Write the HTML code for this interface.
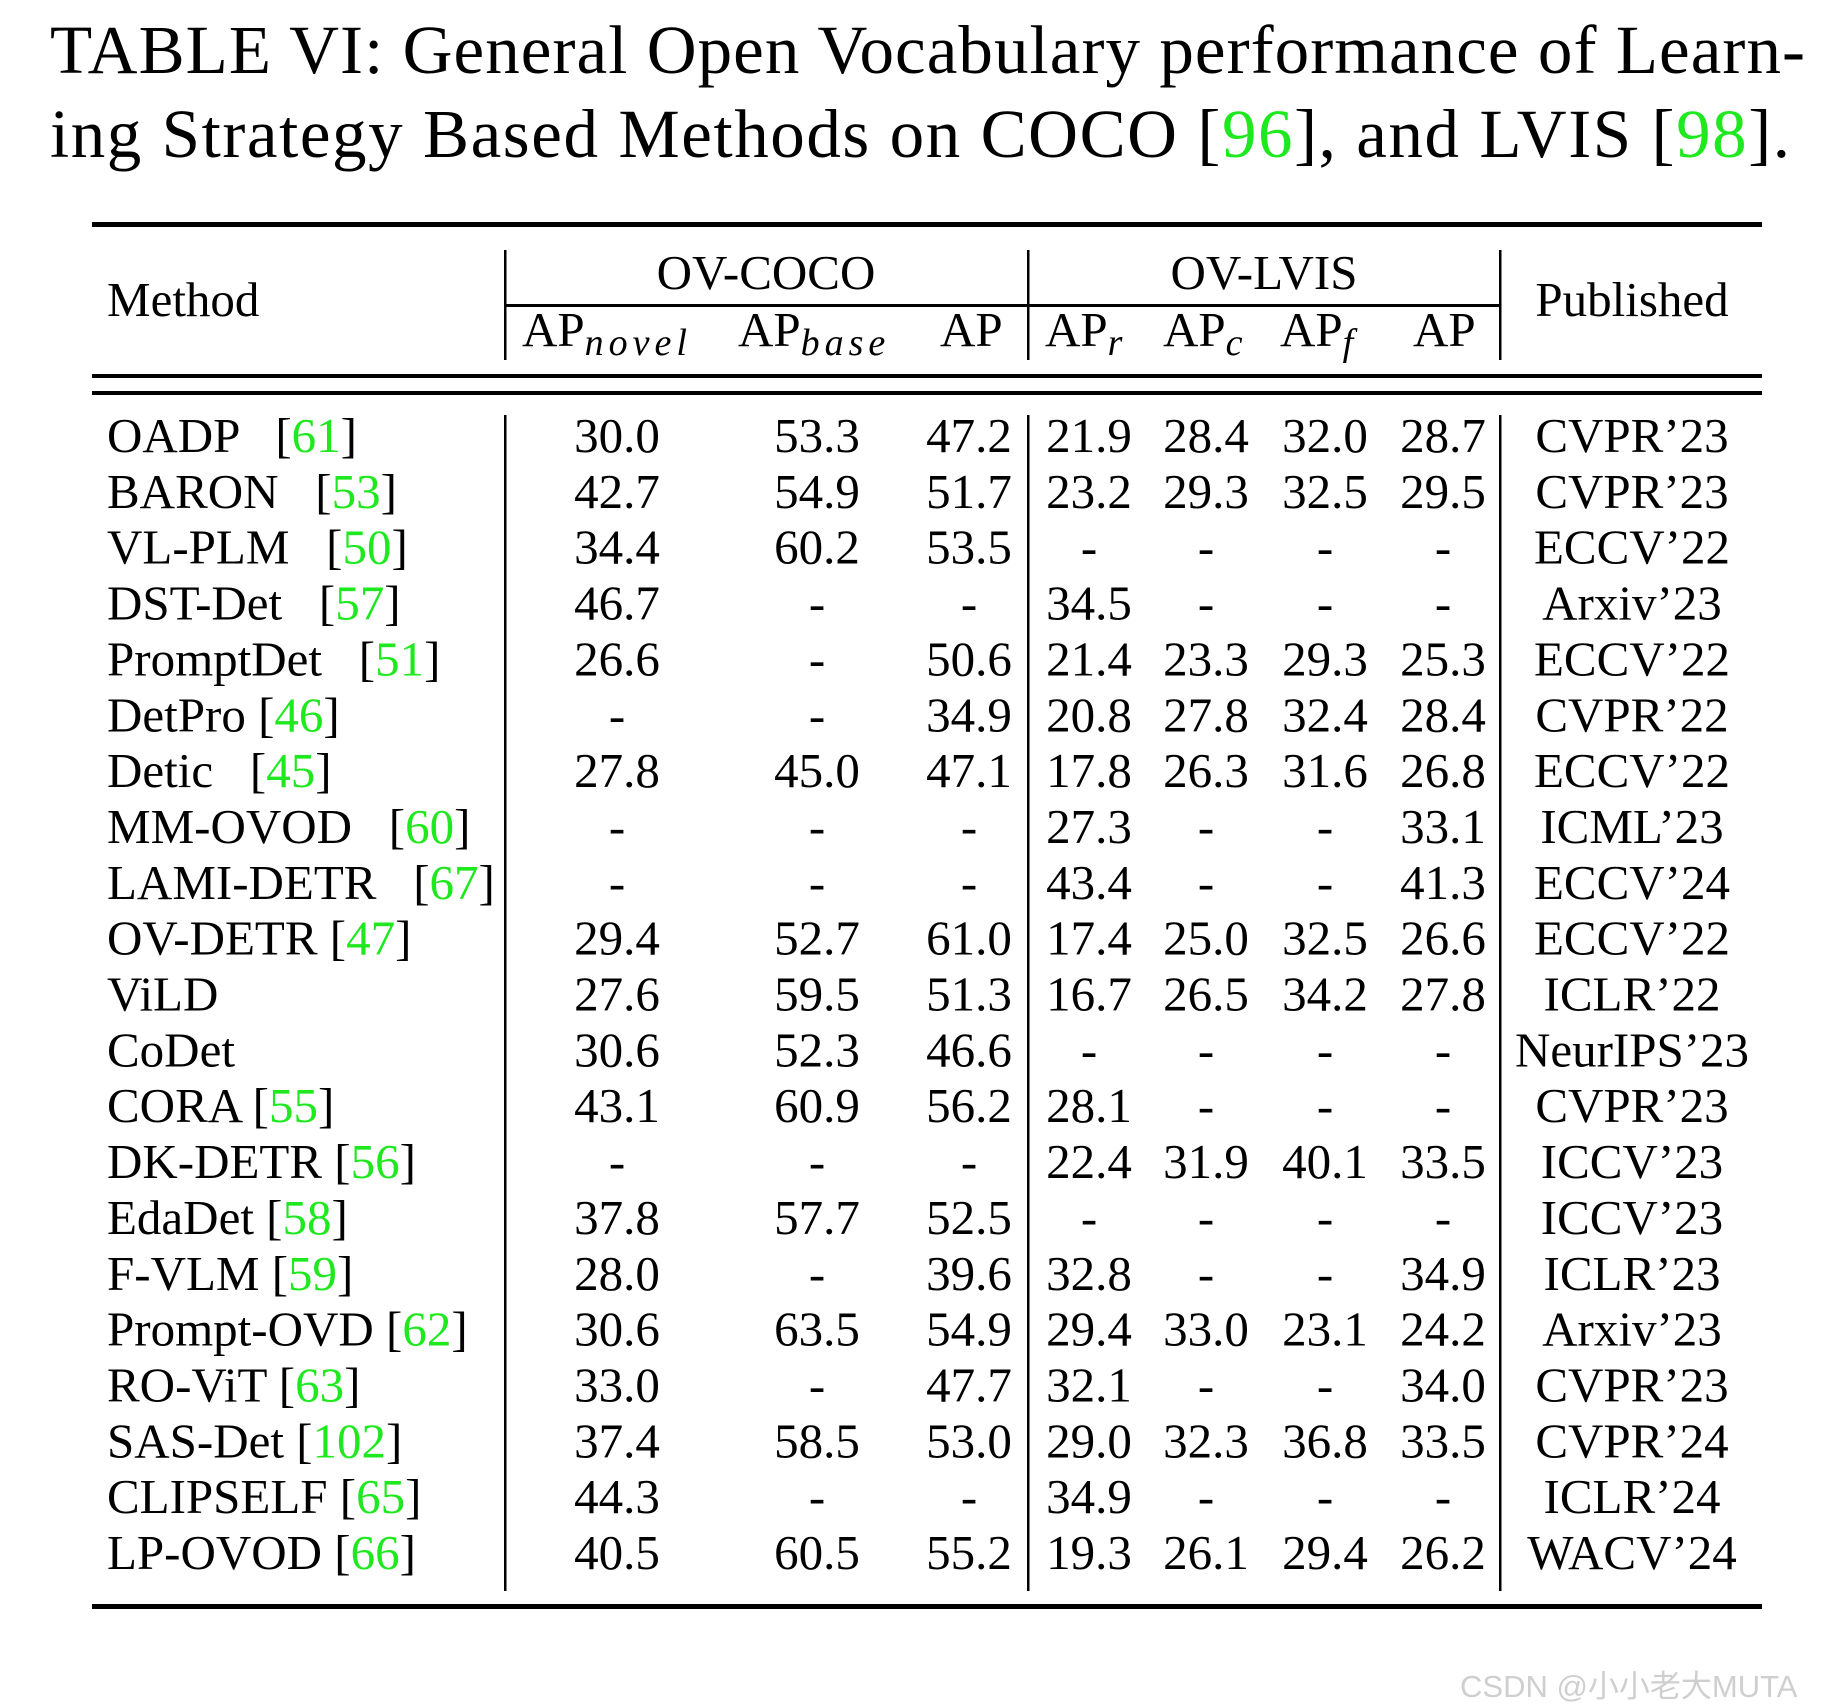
<!DOCTYPE html>
<html><head><meta charset="utf-8"><style>
body{margin:0;background:#fff;width:1841px;height:1708px;overflow:hidden}
svg{display:block}
text{font-family:"Liberation Serif",serif;fill:#000}
.g{fill:#1ee81e}
</style></head><body>
<svg id="tbl" width="1841" height="1708" viewBox="0 0 1841 1708" xmlns="http://www.w3.org/2000/svg">
<text x="50" y="73" font-size="69" textLength="1755" lengthAdjust="spacing">TABLE VI: General Open Vocabulary performance of Learn-</text>
<text x="50" y="157" font-size="69" textLength="1740" lengthAdjust="spacing">ing Strategy Based Methods on COCO [<tspan class="g">96</tspan>], and LVIS [<tspan class="g">98</tspan>].</text>
<rect x="92" y="222" width="1670" height="5"/>
<text x="107" y="316" font-size="49">Method</text>
<text x="766" y="289" font-size="49" text-anchor="middle">OV-COCO</text>
<text x="1264" y="289" font-size="49" text-anchor="middle">OV-LVIS</text>
<text x="1632" y="316" font-size="49" text-anchor="middle">Published</text>
<rect x="505" y="304" width="995" height="3"/>
<g font-size="49">
<text x="522" y="346">AP<tspan font-style="italic" font-size="38" dy="9" letter-spacing="5">novel</tspan></text>
<text x="738" y="346">AP<tspan font-style="italic" font-size="38" dy="9" letter-spacing="5">base</tspan></text>
<text x="940" y="346">AP</text>
<text x="1045" y="346">AP<tspan font-style="italic" font-size="38" dy="9">r</tspan></text>
<text x="1163" y="346">AP<tspan font-style="italic" font-size="38" dy="9">c</tspan></text>
<text x="1280" y="346">AP<tspan font-style="italic" font-size="38" dy="9">f</tspan></text>
<text x="1413" y="346">AP</text>
</g>
<rect x="504" y="250" width="2.5" height="110"/>
<rect x="1027" y="250" width="2.5" height="110"/>
<rect x="1499" y="250" width="2.5" height="110"/>
<rect x="92" y="374" width="1670" height="4"/>
<rect x="92" y="391" width="1670" height="4"/>
<rect x="504" y="415" width="2.5" height="1176"/>
<rect x="1027" y="415" width="2.5" height="1176"/>
<rect x="1499" y="415" width="2.5" height="1176"/>
<rect x="92" y="1604" width="1670" height="5"/>
<g id="rows"></g>
<text x="1460" y="1697" font-size="31" style="font-family:'Liberation Sans','Noto Sans CJK SC',sans-serif;fill:#cfcfcf">CSDN @小小老大MUTA</text>
</svg>
<script>
const methods=["OADP   ","BARON   ","VL-PLM   ","DST-Det   ","PromptDet   ","DetPro ","Detic   ","MM-OVOD   ","LAMI-DETR   ","OV-DETR ","ViLD","CoDet","CORA ","DK-DETR ","EdaDet ","F-VLM ","Prompt-OVD ","RO-ViT ","SAS-Det ","CLIPSELF ","LP-OVOD "];
const refs=["61","53","50","57","51","46","45","60","67","47","","","55","56","58","59","62","63","102","65","66"];
const apNovel=["30.0","42.7","34.4","46.7","26.6","-","27.8","-","-","29.4","27.6","30.6","43.1","-","37.8","28.0","30.6","33.0","37.4","44.3","40.5"];
const apBase=["53.3","54.9","60.2","-","-","-","45.0","-","-","52.7","59.5","52.3","60.9","-","57.7","-","63.5","-","58.5","-","60.5"];
const apCoco=["47.2","51.7","53.5","-","50.6","34.9","47.1","-","-","61.0","51.3","46.6","56.2","-","52.5","39.6","54.9","47.7","53.0","-","55.2"];
const apR=["21.9","23.2","-","34.5","21.4","20.8","17.8","27.3","43.4","17.4","16.7","-","28.1","22.4","-","32.8","29.4","32.1","29.0","34.9","19.3"];
const apC=["28.4","29.3","-","-","23.3","27.8","26.3","-","-","25.0","26.5","-","-","31.9","-","-","33.0","-","32.3","-","26.1"];
const apF=["32.0","32.5","-","-","29.3","32.4","31.6","-","-","32.5","34.2","-","-","40.1","-","-","23.1","-","36.8","-","29.4"];
const apLvis=["28.7","29.5","-","-","25.3","28.4","26.8","33.1","41.3","26.6","27.8","-","-","33.5","-","34.9","24.2","34.0","33.5","-","26.2"];
const published=["CVPR’23","CVPR’23","ECCV’22","Arxiv’23","ECCV’22","CVPR’22","ECCV’22","ICML’23","ECCV’24","ECCV’22","ICLR’22","NeurIPS’23","CVPR’23","ICCV’23","ICCV’23","ICLR’23","Arxiv’23","CVPR’23","CVPR’24","ICLR’24","WACV’24"];
const cols=[[apNovel,617],[apBase,817],[apCoco,969],[apR,1089],[apC,1206],[apF,1325],[apLvis,1443],[published,1632]];
const NS="http://www.w3.org/2000/svg";
const g=document.getElementById('rows');
const y0=452, dy=55.85;
function rowY(i){return y0+i*dy;}
methods.forEach((m,i)=>{
  const t=document.createElementNS(NS,'text');
  
  
  t.setAttribute('x',107);t.setAttribute('y',rowY(i));t.setAttribute('font-size','49');
  t.style.whiteSpace='pre';
  let s=m;
  if(refs[i]) s+='[<tspan class="g">'+refs[i]+'</tspan>]';
  t.innerHTML=s;
  g.appendChild(t);
  cols.forEach(([arr,x])=>{
    const c=document.createElementNS(NS,'text');
    
    
    c.setAttribute('x',x);c.setAttribute('y',rowY(i));c.setAttribute('font-size','49');
    c.setAttribute('text-anchor','middle');
    c.textContent=arr[i];
    g.appendChild(c);
  });
});
</script>
</body></html>
